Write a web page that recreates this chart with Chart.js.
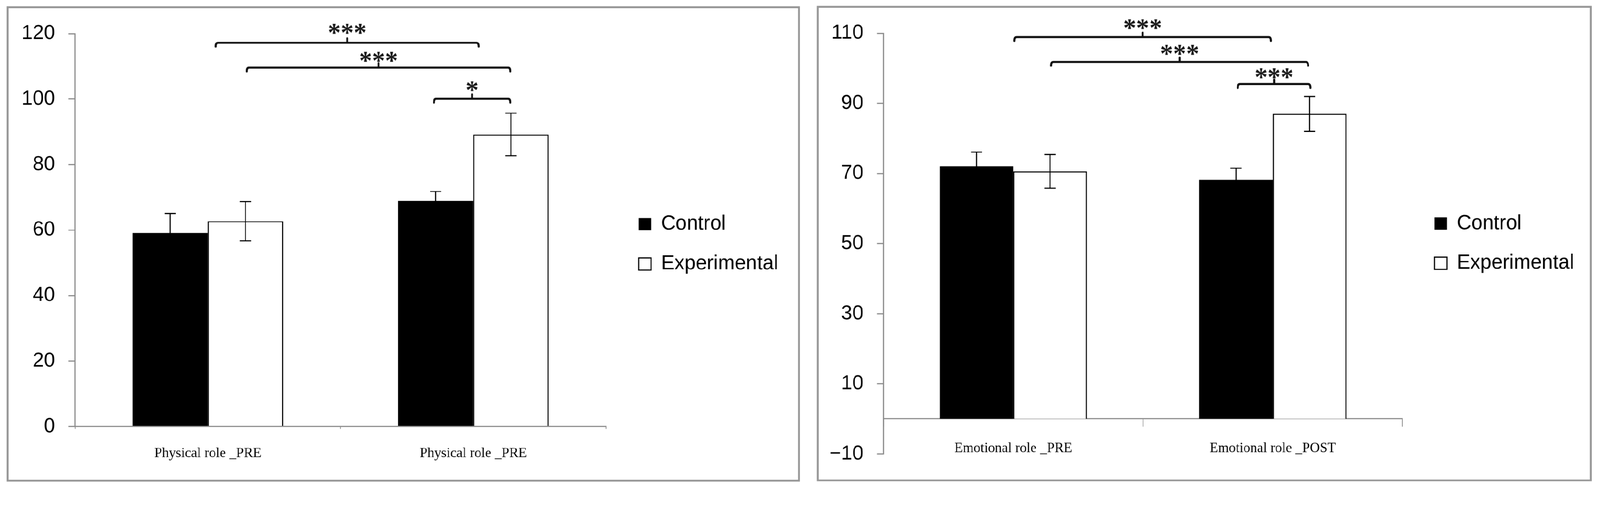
<!DOCTYPE html>
<html><head><meta charset="utf-8">
<script src="https://cdn.jsdelivr.net/npm/chart.js@4/dist/chart.umd.min.js"></script>
<style>
html,body{margin:0;padding:0;background:#fff;overflow:hidden;}
#stage{position:absolute;left:0;top:0;width:4301px;height:1317px;transform-origin:0 0;background:#fff;}
.panel{position:absolute;box-sizing:border-box;border:5px solid #979797;}
canvas{position:absolute;}
</style></head><body>
<div id="stage">
<div class="panel" style="left:18px;top:17px;width:2132px;height:1279px;"></div>
<div class="panel" style="left:2196px;top:16px;width:2083px;height:1279px;"></div>
<canvas id="c1" width="2120" height="1268" style="left:23px;top:22px;width:2120px;height:1268px;"></canvas>
<canvas id="c2" width="2072" height="1268" style="left:2201px;top:21px;width:2072px;height:1268px;"></canvas>
</div>
<script>
// ---------- data: Physical role ----------
const categoriesPhysical = ['Physical role _PRE', 'Physical role _PRE'];
const controlPhysical = [59.1, 68.9];
const controlPhysicalErr = [6.0, 2.9];
const experimentalPhysical = [62.7, 89.2];
const experimentalPhysicalErr = [6.0, 6.5];
const yTicksPhysical = [0, 20, 40, 60, 80, 100, 120];

// ---------- data: Emotional role ----------
const categoriesEmotional = ['Emotional role _PRE', 'Emotional role _POST'];
const controlEmotional = [72.1, 68.2];
const controlEmotionalErr = [4.0, 3.3];
const experimentalEmotional = [70.6, 87.0];
const experimentalEmotionalErr = [4.8, 5.0];
const yTicksEmotional = [-10, 10, 30, 50, 70, 90, 110];

// significance brackets (from/to in category-index units, y in value units)
const sigPhysical = [
  {from: 0.03,  to: 1.02,  y: 117.2, text: '***', textY: 121.5},
  {from: 0.147, to: 1.139, y: 109.6, text: '***', textY: 112.9},
  {from: 0.852, to: 1.139, y: 100.1, text: '*',   textY: 103.9}
];
const sigEmotional = [
  {from: 0.004, to: 0.993, y: 108.9, text: '***', textY: 112.6},
  {from: 0.146, to: 1.136, y: 101.8, text: '***', textY: 105.2},
  {from: 0.865, to: 1.145, y: 95.5,  text: '***', textY: 98.5}
];

const AXIS_GREY = '#898989';

// fit the 4301x1317 design to the actual viewport
const stageScale = (window.innerWidth || 4301) / 4301;
document.getElementById('stage').style.transform = 'scale(' + stageScale + ')';
const pixelRatio = stageScale * (window.devicePixelRatio || 1);

const errorBarsPlugin = {
  id: 'errorBars',
  afterDatasetsDraw(chart) {
    const ctx = chart.ctx, ys = chart.scales.y;
    ctx.save();
    ctx.strokeStyle = '#000';
    ctx.lineWidth = 3;
    chart.data.datasets.forEach((ds, i) => {
      const meta = chart.getDatasetMeta(i);
      meta.data.forEach((bar, j) => {
        const v = ds.data[j], e = ds.errors[j];
        const top = ys.getPixelForValue(v + e), bot = ys.getPixelForValue(v - e);
        const x = bar.x, w = 15;
        ctx.beginPath();
        ctx.moveTo(x, top); ctx.lineTo(x, bot);
        ctx.moveTo(x - w, top); ctx.lineTo(x + w, top);
        ctx.moveTo(x - w, bot); ctx.lineTo(x + w, bot);
        ctx.stroke();
      });
    });
    ctx.restore();
  }
};

function bracketsPlugin(items) {
  return {
    id: 'sigBrackets',
    afterDraw(chart) {
      const ctx = chart.ctx, xs = chart.scales.x, ys = chart.scales.y;
      const p0 = xs.getPixelForValue(0), p1 = xs.getPixelForValue(1);
      const px = f => p0 + f * (p1 - p0);
      ctx.save();
      items.forEach(b => {
        const x1 = px(b.from), x2 = px(b.to), yy = ys.getPixelForValue(b.y), xc = (x1 + x2) / 2;
        ctx.strokeStyle = '#111';
        ctx.lineWidth = 5.5;
        ctx.lineCap = 'round';
        ctx.lineJoin = 'round';
        ctx.beginPath();
        ctx.moveTo(x1, yy + 10);
        ctx.quadraticCurveTo(x1, yy, x1 + 6, yy);
        ctx.lineTo(x2 - 6, yy);
        ctx.quadraticCurveTo(x2, yy, x2, yy + 10);
        ctx.moveTo(xc, yy);
        ctx.lineTo(xc, yy - 12);
        ctx.stroke();
        ctx.fillStyle = '#1a1a1a';
        ctx.font = 'bold 70px "Liberation Serif"';
        ctx.textAlign = 'center';
        ctx.textBaseline = 'alphabetic';
        const m = ctx.measureText(b.text);
        const cy = ys.getPixelForValue(b.textY);
        ctx.fillText(b.text, xc, cy + (m.actualBoundingBoxAscent - m.actualBoundingBoxDescent) / 2);
      });
      ctx.restore();
    }
  };
}

function legendNudgePlugin(tx, ty) {
  return {
    id: 'legendNudge',
    afterLayout(chart) {
      const lg = chart.legend;
      if (!lg || !lg.columnSizes || !lg.columnSizes.length) return;
      const pad = lg.options.labels.padding;
      const dx = tx - (lg.left + pad);
      lg.left += dx;
      lg.right = lg.left + 600;
      const colH = lg.columnSizes[0].height;
      const cur = (lg.top + pad + lg.bottom - colH) / 2;
      const dy = ty - cur;
      lg.top += dy; lg.bottom += dy;
    }
  };
}

function buildChart(id, cats, ctrl, ctrlErr, exp, expErr, ticks, yMin, yMax, sig, L) {
  return new Chart(document.getElementById(id), {
    type: 'bar',
    data: {
      labels: cats,
      datasets: [
        {label: 'Control', data: ctrl, errors: ctrlErr, backgroundColor: '#000', borderColor: '#000',
         borderWidth: 0, categoryPercentage: 0.567, barPercentage: 1},
        {label: 'Experimental', data: exp, errors: expErr, backgroundColor: '#fff', borderColor: '#000',
         borderWidth: 3, categoryPercentage: 0.567, barPercentage: 1}
      ]
    },
    options: {
      responsive: false,
      animation: false,
      devicePixelRatio: pixelRatio,
      layout: {padding: {left: 0, top: L.padT, right: L.padR, bottom: L.padB}},
      scales: {
        x: {
          position: {y: 0},
          grid: {display: true, drawOnChartArea: false, drawTicks: true, tickLength: L.xTick, color: AXIS_GREY, lineWidth: 2},
          border: {display: true, color: AXIS_GREY, width: 3},
          ticks: {color: '#000', font: {family: '"Liberation Serif"', size: 37}, padding: L.xPad, maxRotation: 0, autoSkip: false}
        },
        y: {
          min: yMin, max: yMax,
          afterBuildTicks(s) { s.ticks = ticks.map(v => ({value: v})); },
          afterFit(s) { s.width = L.yWidth; },
          grid: {drawOnChartArea: false, drawTicks: true, tickLength: 18, color: AXIS_GREY, lineWidth: 3},
          border: {display: true, color: AXIS_GREY, width: 3},
          ticks: {color: '#000', font: {family: '"Liberation Sans"', size: 54}, padding: 36,
                  callback: v => (v < 0 ? '\u2212' + Math.abs(v) : String(v))}
        }
      },
      plugins: {
        legend: {
          position: 'right', align: 'center', maxWidth: 200,
          labels: {boxWidth: 33, boxHeight: 33, padding: 53, color: '#000',
                   font: {family: '"Liberation Sans"', size: 54}}
        },
        tooltip: {enabled: false}
      }
    },
    plugins: [errorBarsPlugin, bracketsPlugin(sig), legendNudgePlugin(L.legX, L.legY)]
  });
}

buildChart('c1', categoriesPhysical, controlPhysical, controlPhysicalErr, experimentalPhysical, experimentalPhysicalErr,
  yTicksPhysical, 0, 120, sigPhysical,
  {padT: 62, padB: 143, padR: 314, yWidth: 179, xTick: 5, xPad: 46, legX: 1694, legY: 554});

buildChart('c2', categoriesEmotional, controlEmotional, controlEmotionalErr, experimentalEmotional, experimentalEmotionalErr,
  yTicksEmotional, -10, 110, sigEmotional,
  {padT: 60.5, padB: 62, padR: 303, yWidth: 174, xTick: 20, xPad: 38, legX: 1655, legY: 553});
</script>
</body></html>
